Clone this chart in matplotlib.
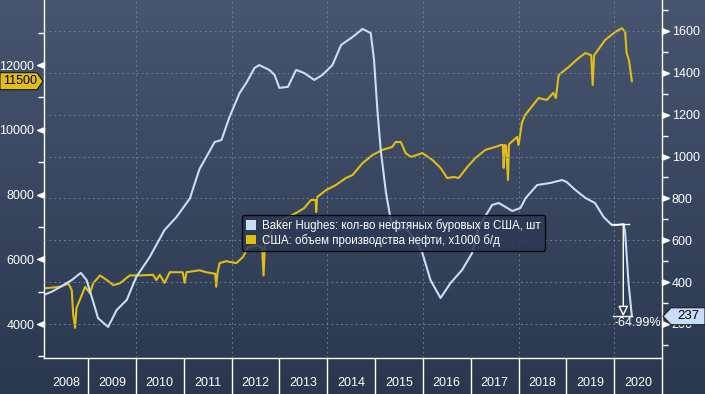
import numpy as np
import matplotlib
matplotlib.use("Agg")
from matplotlib import pyplot as plt
from matplotlib import transforms
from matplotlib.patches import Patch, Polygon
from matplotlib.path import Path
from matplotlib.colors import LinearSegmentedColormap

plt.rcParams['font.family'] = ['Liberation Sans', 'DejaVu Sans']

# Baker Hughes oil rig count (right axis), decimal years
rig_t = [2008.08, 2008.25, 2008.42, 2008.66, 2008.85, 2008.97, 2009.11, 2009.21, 2009.42,
         2009.60, 2009.81, 2010.01, 2010.29, 2010.60, 2010.85, 2011.13, 2011.33, 2011.65,
         2011.79, 2011.96, 2012.17, 2012.31, 2012.48, 2012.58, 2012.79, 2012.90, 2013.00,
         2013.18, 2013.35, 2013.52, 2013.73, 2013.90, 2014.11, 2014.29, 2014.53, 2014.74,
         2014.91, 2014.98, 2015.05, 2015.12, 2015.23, 2015.33, 2015.47, 2015.61, 2015.85,
         2015.99, 2016.16, 2016.37, 2016.58, 2016.82, 2017.03, 2017.17, 2017.45, 2017.59,
         2017.87, 2018.04, 2018.15, 2018.39, 2018.67, 2018.91, 2019.01, 2019.19, 2019.40,
         2019.60, 2019.78, 2019.95, 2020.06, 2020.20, 2020.23, 2020.30, 2020.37]
rig_v = [339, 355, 377, 410, 444, 410, 305, 228, 186,
         267, 315, 425, 520, 649, 711, 800, 940, 1070,
         1079, 1190, 1304, 1352, 1423, 1437, 1414, 1390, 1328,
         1333, 1414, 1399, 1366, 1390, 1437, 1533, 1571, 1610,
         1590, 1461, 1222, 1031, 826, 697, 649, 664, 601,
         539, 410, 324, 396, 458, 539, 664, 769, 778,
         740, 754, 802, 864, 874, 888, 878, 840, 802,
         778, 711, 673, 673, 677, 635, 396, 237]

# US crude oil production, x1000 b/d (left axis)
oil_t = [2008.08, 2008.42, 2008.59, 2008.66, 2008.69, 2008.73, 2008.76, 2008.83, 2008.94,
         2009.04, 2009.11, 2009.25, 2009.39, 2009.53, 2009.67, 2009.87, 2010.08, 2010.36,
         2010.43, 2010.50, 2010.60, 2010.71, 2010.98, 2011.02, 2011.06, 2011.33, 2011.47,
         2011.66, 2011.68, 2011.71, 2011.75, 2011.89, 2012.10, 2012.24, 2012.34, 2012.52,
         2012.64, 2012.67, 2012.70, 2012.93, 2013.14, 2013.35, 2013.52, 2013.66, 2013.76,
         2013.77, 2013.79, 2013.98, 2014.18, 2014.39, 2014.53, 2014.74, 2014.95, 2015.16,
         2015.36, 2015.43, 2015.54, 2015.64, 2015.75, 2015.99, 2016.20, 2016.37, 2016.51,
         2016.65, 2016.75, 2016.93, 2017.10, 2017.31, 2017.52, 2017.63, 2017.67, 2017.69,
         2017.71, 2017.74, 2017.78, 2017.80, 2017.97, 2018.00, 2018.03, 2018.07, 2018.14,
         2018.42, 2018.59, 2018.73, 2018.78, 2018.84, 2019.05, 2019.26, 2019.40, 2019.52,
         2019.55, 2019.58, 2019.81, 2020.02, 2020.16, 2020.23, 2020.26, 2020.31, 2020.37]
oil_v = [5100, 5150, 5250, 5050, 4300, 3880, 4500, 4750, 5150,
         4950, 5260, 5500, 5360, 5200, 5260, 5500, 5500, 5520,
         5360, 5520, 5270, 5600, 5600, 5270, 5600, 5660, 5600,
         5550, 5150, 5600, 5880, 5940, 5880, 6070, 6350, 6440,
         6350, 5500, 6500, 7120, 7270, 7430, 7580, 7830, 7830,
         7460, 7920, 8140, 8290, 8510, 8600, 8970, 9220, 9380,
         9470, 9620, 9620, 9280, 9160, 9280, 9070, 8820, 8510,
         8540, 8510, 8850, 9130, 9380, 9470, 9530, 9530, 8820,
         9530, 9500, 8450, 9550, 9780, 9530, 9800, 10210, 10460,
         10980, 10920, 11140, 10980, 11690, 11940, 12220, 12370, 12300,
         11380, 12300, 12770, 13020, 13140, 13020, 12370, 12150, 11500]

years = list(range(2008, 2021))
rig_label = 'Baker Hughes: кол-во нефтяных буровых в США, шт'
oil_label = 'США: объем производства нефти, x1000 б/д'

bg_top = '#47556f'
bg_bot = '#29374f'
yellow = '#e2bd14'
blue = '#c6def8'
grid_c = '#6c7b96'

W, H = 705, 394
fig = plt.figure(figsize=(W / 100, H / 100), dpi=100)

# gradient background
bg = fig.add_axes([0, 0, 1, 1], zorder=-10)
cmap = LinearSegmentedColormap.from_list('bg', [bg_bot, bg_top])
bg.imshow(np.linspace(1, 0, 256).reshape(-1, 1), aspect='auto', cmap=cmap, extent=[0, 1, 0, 1])
bg.axis('off')

ax = fig.add_axes([44 / W, 36 / H, 618 / W, 358 / H])
ax.patch.set_alpha(0)
ax2 = ax.twinx()
ax2.patch.set_alpha(0)

ax.plot(oil_t, oil_v, color=yellow, lw=1.5)
ax2.plot(rig_t, rig_v, color=blue, lw=1.5)

ax.set_xlim(2008.08, 2021.0)
ax.set_ylim(2950, 14008)
ax2.set_ylim(37.5, 1748)

# spines
for a in (ax, ax2):
    for s in a.spines.values():
        s.set_visible(False)
ax.spines['left'].set_visible(True)
ax.spines['bottom'].set_visible(True)
ax2.spines['right'].set_visible(True)
for s in (ax.spines['left'], ax.spines['bottom'], ax2.spines['right']):
    s.set_color('white')
    s.set_linewidth(1)

# y ticks
ax.set_yticks(range(4000, 12001, 2000))
ax.set_yticks(range(3000, 13001, 2000), minor=True)
ax2.set_yticks(range(200, 1601, 200))
ax2.set_yticks(range(100, 1701, 200), minor=True)
ax.tick_params(axis='y', which='major', length=0, pad=7, labelsize=9, labelcolor='white')
ax.tick_params(axis='y', which='minor', length=4, width=1, color='white')
ax2.tick_params(axis='y', which='major', length=0, pad=7, labelsize=9, labelcolor='white')
ax2.tick_params(axis='y', which='minor', length=4, width=1, color='white')

# triangle markers for major ticks
tri_left = Path([(-1, 0), (0, 0.4), (0, -0.4), (-1, 0)])
tri_right = Path([(1, 0), (0, 0.4), (0, -0.4), (1, 0)])
tl = transforms.blended_transform_factory(ax.transAxes, ax.transData)
ax.plot([0] * 5, list(range(4000, 12001, 2000)), marker=tri_left, ms=10, ls='none',
        color='white', transform=tl, clip_on=False)
tr = transforms.blended_transform_factory(ax2.transAxes, ax2.transData)
ax2.plot([1] * 8, list(range(200, 1601, 200)), marker=tri_right, ms=10, ls='none',
         color='white', transform=tr, clip_on=False)

# x axis: year separators and centred labels
x0, x1 = ax.get_xlim()
ax.set_xticks([y for y in years[1:]] + [2021])
ax.set_xticklabels([])
ax.tick_params(axis='x', which='major', length=27, width=1, color='white', direction='out')
tx = transforms.blended_transform_factory(ax.transData, ax.transAxes)
for y in years:
    c = (max(y, x0) + min(y + 1, x1)) / 2
    ax.text(c, -25 / 358, str(y), transform=tx, ha='center', va='center',
            color='white', fontsize=9)

# grid
for g in range(2010, 2021, 2):
    ax.axvline(g, color=grid_c, lw=0.7, ls=(0, (2, 3)), zorder=0)
ax2.yaxis.grid(True, color=grid_c, lw=0.7, ls=(0, (2, 3)))
ax2.set_axisbelow(True)

# legend
handles = [Patch(facecolor=blue, edgecolor='none', label=rig_label),
           Patch(facecolor=yellow, edgecolor='none', label=oil_label)]
leg = ax2.legend(handles=handles, loc='upper left', bbox_to_anchor=(198 / 618, (358 - 215) / 358),
                 fontsize=8.3, labelcolor='white', facecolor='#2c3956', edgecolor='black',
                 framealpha=0.85, handlelength=0.9, handleheight=0.9, handletextpad=0.5,
                 borderpad=0.35, labelspacing=0.15, borderaxespad=0)
leg.get_frame().set_linewidth(1)

# drop annotation
drop_from = max(v for t, v in zip(rig_t, rig_v) if t >= 2020)
drop_to = rig_v[-1]
pct = (drop_to / drop_from - 1) * 100
ax2.plot([2019.94, 2020.32], [drop_from, drop_from], color='white', lw=1)
ax2.plot([2019.985, 2020.38], [drop_to, drop_to], color='white', lw=1)
ax2.annotate('', xy=(2020.19, drop_to), xytext=(2020.19, drop_from),
             arrowprops=dict(arrowstyle='-|>,head_length=0.6,head_width=0.3',
                             color='white', fc='#2d3b57', lw=1, shrinkA=0, shrinkB=0))
ax2.text(2020.49, drop_to - 5, f'{pct:.2f}%', color='white', fontsize=9,
         ha='center', va='top')

# last value tags
fig.canvas.draw()
ident = transforms.IdentityTransform()
yo = ax.transData.transform((2020, oil_v[-1]))[1]
fig.add_artist(Polygon([(0, yo - 8.5), (37, yo - 8.5), (43, yo), (37, yo + 8.5), (0, yo + 8.5)],
                       closed=True, facecolor=yellow, edgecolor='#1a1a1a', lw=0.8, transform=ident))
fig.text(20, yo, f'{oil_v[-1]:.0f}', transform=ident, ha='center', va='center',
         color='black', fontsize=9)
yr = ax2.transData.transform((2020, rig_v[-1]))[1]
fig.add_artist(Polygon([(663, yr), (671, yr + 8.5), (705, yr + 8.5), (705, yr - 8.5), (671, yr - 8.5)],
                       closed=True, facecolor=blue, edgecolor='#1a1a1a', lw=0.8, transform=ident))
fig.text(688, yr, f'{rig_v[-1]:.0f}', transform=ident, ha='center', va='center',
         color='black', fontsize=9.5)

fig.savefig('out.png', dpi=100)
